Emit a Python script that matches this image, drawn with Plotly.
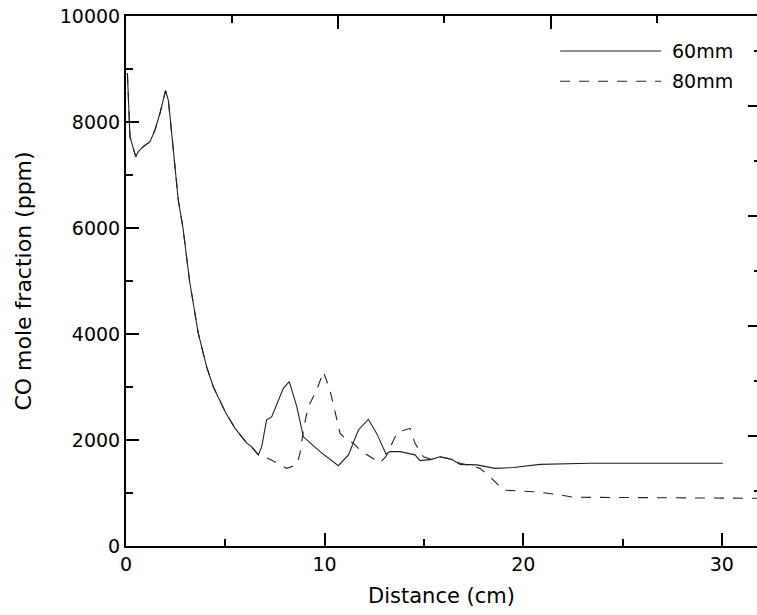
import plotly.graph_objects as go

# 60 mm series (solid)
x60 = [0.07, 0.2, 0.49, 0.62, 0.87, 1.21, 1.46, 1.71, 1.99, 2.13, 2.3, 2.47, 2.63, 2.87, 3.2, 3.64,
       4.06, 4.4, 5.0, 5.49, 6.08, 6.33, 6.66, 6.83, 7.08, 7.34, 7.59, 7.92, 8.22, 8.6, 8.93, 9.1,
       9.77, 10.69, 11.2, 11.7, 12.2, 12.62, 13.09, 13.29, 13.8, 14.55, 14.8, 15.39, 15.81, 16.4,
       16.82, 17.66, 18.58, 19.5, 20.85, 23.36, 30.05]
y60 = [8920, 7720, 7345, 7440, 7535, 7630, 7850, 8165, 8590, 8415, 7790, 7160, 6530, 6000, 5000, 4010,
       3380, 3000, 2530, 2220, 1940, 1870, 1720, 1870, 2380, 2440, 2660, 2975, 3100, 2630, 2060, 2000,
       1780, 1515, 1720, 2190, 2390, 2125, 1735, 1780, 1780, 1720, 1610, 1635, 1685, 1635,
       1540, 1530, 1465, 1480, 1540, 1560, 1560]

# 80 mm series (dashed)
x80 = [0.07, 0.2, 0.49, 0.62, 0.87, 1.21, 1.46, 1.71, 1.99, 2.13, 2.3, 2.47, 2.63, 2.87, 3.2, 3.64,
       4.06, 4.4, 5.0, 5.49, 6.08, 6.33, 6.66, 7.25, 7.67, 8.09, 8.6, 8.76, 8.96, 9.18, 9.6, 9.94,
       10.27, 10.78, 11.11, 11.45, 11.87, 12.29, 12.79, 13.09, 13.63, 13.8, 14.3, 14.55, 14.97,
       15.39, 15.81, 16.4, 16.82, 17.5, 17.82, 18.24, 18.66, 19.0, 20.5, 21.68, 22.52, 31.3, 32.0]
y80 = [8920, 7720, 7345, 7440, 7535, 7630, 7850, 8165, 8590, 8415, 7790, 7160, 6530, 6000, 5000, 4010,
       3380, 3000, 2530, 2220, 1940, 1870, 1720, 1635, 1545, 1465, 1530, 1750, 2250, 2630, 2940, 3290,
       2940, 2125, 2000, 1940, 1780, 1685, 1570, 1690, 2125, 2160, 2220, 1940, 1685,
       1635, 1685, 1635, 1560, 1500, 1465, 1340, 1180, 1055, 1025, 975, 920, 900, 900]

series_names = ["60mm", "80mm"]
x_ticks = [0, 10, 20, 30]
y_ticks = [0, 2000, 4000, 6000, 8000, 10000]

FONT = "DejaVu Sans, Liberation Sans, Arial, sans-serif"

fig = go.Figure()
fig.add_trace(go.Scatter(x=x60, y=y60, mode="lines", name=series_names[0],
                         line=dict(color="#222222", width=1.1), showlegend=False))
fig.add_trace(go.Scatter(x=x80, y=y80, mode="lines", name=series_names[1],
                         line=dict(color="#222222", width=1.1, dash="10px,9px"), showlegend=False))
# invisible trace to carry top/right axes
fig.add_trace(go.Scatter(x=[None], y=[None], xaxis="x2", yaxis="y2", showlegend=False, hoverinfo="skip"))

fig.update_layout(
    width=757, height=615,
    margin=dict(l=126, r=0, t=16, b=69),
    paper_bgcolor="white", plot_bgcolor="white",
    font=dict(family=FONT, size=20, color="black"),
    xaxis=dict(range=[0, 31.77], showgrid=False, zeroline=False,
               showline=True, linecolor="black", linewidth=2,
               ticks="inside", tickvals=x_ticks, ticklen=13, tickwidth=2, tickcolor="black",
               minor=dict(tickvals=[5, 15, 25], ticks="inside", ticklen=7, tickwidth=2, tickcolor="black"),
               tickfont=dict(size=19), title=dict(text="Distance (cm)", font=dict(size=21), standoff=15)),
    yaxis=dict(range=[0, 10000], showgrid=False, zeroline=False,
               showline=True, linecolor="black", linewidth=2,
               ticks="inside", tickvals=y_ticks, tickformat="d", ticklen=13, tickwidth=2,
               tickcolor="black",
               minor=dict(tickvals=[1000, 3000, 5000, 7000, 9000], ticks="inside", ticklen=7, tickwidth=2,
                          tickcolor="black"),
               tickfont=dict(size=19), title=dict(text="CO mole fraction (ppm)", font=dict(size=22), standoff=22)),
    xaxis2=dict(overlaying="x", side="top", range=[0, 29.72], showgrid=False, zeroline=False,
                showline=True, linecolor="black", linewidth=2, showticklabels=False,
                ticks="inside", tickvals=[10, 20], ticklen=13, tickwidth=2, tickcolor="black",
                minor=dict(tickvals=[5, 15, 25], ticks="inside", ticklen=7, tickwidth=2, tickcolor="black")),
    yaxis2=dict(overlaying="y", side="right", range=[0, 9636], showgrid=False, zeroline=False,
                showline=False, showticklabels=False,
                ticks="inside", tickvals=[0, 2000, 4000, 6000, 8000], ticklen=9, tickwidth=2, tickcolor="black",
                minor=dict(tickvals=[1000, 3000, 5000, 7000, 9000], ticks="inside", ticklen=3, tickwidth=2,
                           tickcolor="black")),
)

# manual legend (samples + labels)
leg_y = [0.934, 0.877]
leg_dash = ["solid", "10px,9px"]
for name, yy, dsh in zip(series_names, leg_y, leg_dash):
    fig.add_shape(type="line", xref="paper", yref="paper", x0=0.688, x1=0.848, y0=yy, y1=yy,
                  line=dict(color="#222222", width=1.1, dash=dsh))
    fig.add_annotation(xref="paper", yref="paper", x=0.862, y=yy, text=name, showarrow=False,
                       xanchor="left", yanchor="middle", font=dict(size=19, family=FONT))

fig.write_html("out.html")
